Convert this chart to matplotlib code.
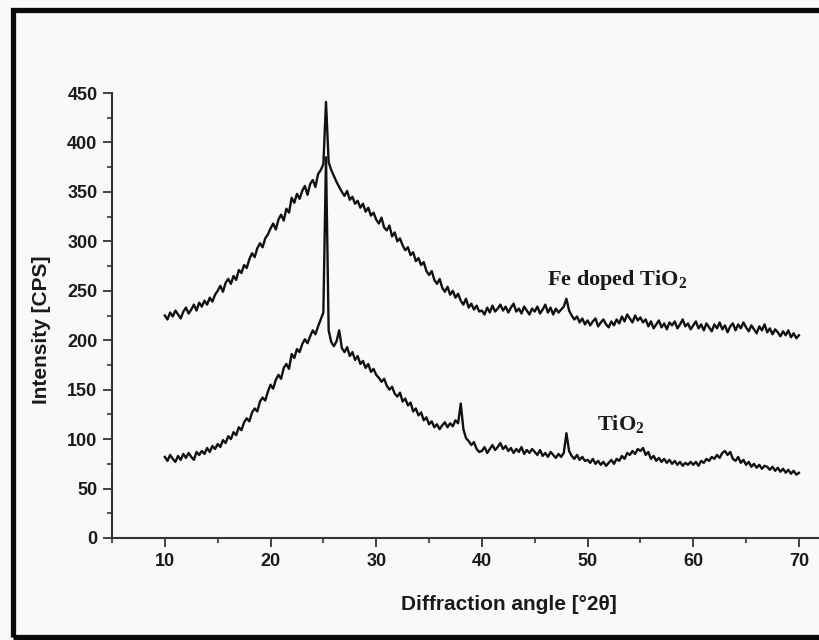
import numpy as np
import matplotlib
matplotlib.use('Agg')
import matplotlib.pyplot as plt
from matplotlib.patches import Rectangle

# diffraction angle grid, 0.25 deg steps from 10 to 70
two_theta = np.arange(10, 70.001, 0.25)

# Fe doped TiO2 (upper pattern)
fe_doped = [
    225, 221, 228, 224, 230, 226, 222, 229, 233, 227, 231, 236, 230, 238, 234, 240, 236, 243, 239, 246,
    250, 255, 249, 258, 262, 257, 265, 261, 271, 268, 276, 273, 282, 288, 284, 293, 298, 294, 303, 307,
    313, 318, 312, 322, 327, 321, 333, 329, 344, 339, 348, 343, 351, 356, 347, 358, 362, 355, 368, 372,
    378, 441, 380, 372, 366, 360, 355, 350, 346, 351, 342, 345, 338, 341, 334, 338, 330, 334, 326, 329,
    322, 318, 324, 314, 311, 316, 305, 309, 300, 303, 296, 291, 294, 286, 289, 280, 283, 276, 279, 270,
    266, 270, 261, 257, 262, 253, 249, 254, 246, 250, 243, 247, 240, 236, 242, 233, 237, 231, 235, 229,
    230, 226, 233, 228, 235, 229, 232, 236, 230, 234, 228, 233, 237, 229, 232, 227, 234, 230, 226, 232,
    229, 234, 227, 231, 236, 228, 233, 226, 232, 228, 231, 234, 242, 230, 225, 221, 224, 218, 222, 216,
    220, 215, 219, 222, 214, 218, 221, 216, 213, 219, 215, 221, 217, 224, 219, 226, 222, 218, 225, 220,
    223, 218, 221, 214, 219, 212, 216, 220, 213, 217, 211, 218, 215, 219, 212, 216, 221, 214, 217, 211,
    215, 219, 212, 216, 210, 217, 213, 209, 216, 212, 218, 211, 215, 208, 214, 217, 210, 216, 212, 218,
    213, 209, 215, 211, 207, 214, 210, 216, 208, 212, 206, 211, 208, 204, 209, 205, 210, 203, 207, 202,
    205,
]

# pure TiO2 (lower pattern)
tio2 = [
    82, 78, 84, 80, 77, 83, 79, 85, 81, 86, 82, 79, 87, 84, 88, 85, 91, 87, 93, 90,
    95, 92, 99, 96, 103, 100, 107, 104, 112, 109, 117, 121, 118, 127, 131, 128, 138, 142, 139, 148,
    155, 151, 160, 165, 161, 172, 176, 171, 186, 182, 191, 188, 196, 201, 197, 204, 210, 206, 214, 221,
    228, 385, 210, 198, 194, 199, 210, 192, 188, 193, 184, 188, 180, 184, 176, 179, 172, 176, 168, 171,
    165, 162, 158, 161, 154, 150, 153, 146, 143, 147, 138, 141, 134, 137, 128, 131, 124, 127, 119, 122,
    115, 118, 112, 115, 110, 114, 117, 112, 116, 113, 119, 116, 136, 110, 101, 98, 94, 97, 90, 87,
    88, 92, 86, 90, 94, 89, 92, 96, 90, 93, 88, 91, 86, 90, 87, 92, 85, 89, 86, 90,
    87, 84, 89, 83, 86, 82, 87, 84, 81, 85, 82, 86, 106, 88, 83, 80, 84, 79, 82, 78,
    79, 76, 80, 75, 78, 74, 77, 73, 76, 79, 75, 80, 78, 83, 80, 86, 84, 88, 85, 90,
    88, 91, 84, 87, 80, 83, 78, 81, 77, 80, 76, 79, 75, 78, 74, 77, 73, 76, 74, 77,
    74, 77, 73, 78, 76, 80, 78, 82, 80, 84, 81, 86, 88, 84, 87, 80, 78, 82, 76, 79,
    74, 77, 72, 75, 71, 74, 70, 73, 72, 69, 72, 68, 71, 67, 70, 66, 69, 65, 68, 64,
    66,
]

x_ticks = [10, 20, 30, 40, 50, 60, 70]
y_ticks = [0, 50, 100, 150, 200, 250, 300, 350, 400, 450]

plt.rcParams['font.family'] = ['Liberation Sans', 'DejaVu Sans']
plt.rcParams['mathtext.fontset'] = 'custom'
plt.rcParams['mathtext.rm'] = 'Liberation Serif:bold'
plt.rcParams['mathtext.it'] = 'Liberation Serif:bold'

bg = '#f9f9f9'
fig = plt.figure(figsize=(8.19, 6.4), dpi=100, facecolor=bg)
ax = fig.add_axes([112/819, 1 - 538/640, 1 - 112/819, (538 - 93)/640])
ax.set_facecolor(bg)

ax.plot(two_theta, fe_doped, color='#111111', lw=1.7)
ax.plot(two_theta, tio2, color='#111111', lw=1.7)

ax.set_xlim(5, 71.9)
ax.set_ylim(0, 450)
ax.set_xticks(x_ticks)
ax.set_yticks(y_ticks)
ax.set_xticks(np.arange(5, 71, 5), minor=True)
ax.set_yticks(np.arange(0, 451, 25), minor=True)

for s in ['top', 'right']:
    ax.spines[s].set_visible(False)
for s in ['left', 'bottom']:
    ax.spines[s].set_color('#333333')
    ax.spines[s].set_linewidth(1.5)

ax.tick_params(which='major', direction='out', length=6.5, width=1.3, color='#333333', pad=4)
ax.tick_params(which='minor', direction='out', length=3.5, width=1.2, color='#333333')
for lab in ax.get_xticklabels() + ax.get_yticklabels():
    lab.set_fontsize(13)
    lab.set_fontweight('bold')
    lab.set_color('#1a1a1a')

# labels on the curves
ax.text(46.2, 261, 'Fe doped TiO$_2$', family='Liberation Serif', fontweight='bold',
        fontsize=16, va='center', ha='left', color='#1a1a1a')
ax.text(50.9, 115, 'TiO$_2$', family='Liberation Serif', fontweight='bold',
        fontsize=16, va='center', ha='left', color='#1a1a1a')

# axis titles
fig.text(509/819, 1 - 605/640, 'Diffraction angle [°2θ]', ha='center', va='center',
         fontsize=15, fontweight='bold', color='#1a1a1a')
fig.text(42/819, 1 - 330/640, 'Intensity [CPS]', ha='center', va='center', rotation=90,
         fontsize=15, fontweight='bold', color='#1a1a1a')

# thick frame round the picture
fig.patches.append(Rectangle((12.5/819, 1 - 637/640), 1.0, (637 - 9.5)/640,
                             transform=fig.transFigure, fill=False, lw=3.8,
                             edgecolor='#0a0a0a', clip_on=False))

fig.savefig('out.png', dpi=100, facecolor=bg)
